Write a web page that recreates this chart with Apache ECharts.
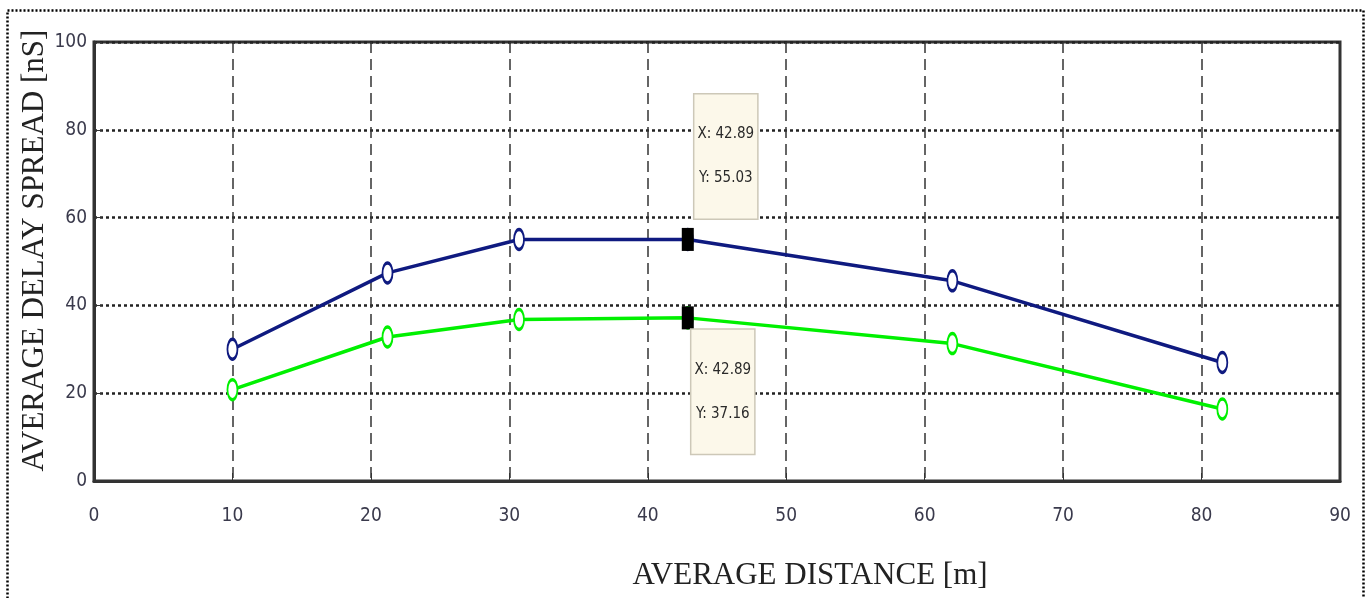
<!DOCTYPE html>
<html>
<head>
<meta charset="utf-8">
<script src="https://cdn.jsdelivr.net/npm/echarts@6/dist/echarts.min.js"></script>
<style>
html,body{margin:0;padding:0;background:#fff;}
#c{width:1370px;height:598px;}
</style>
</head>
<body>
<div id="c"></div>
<script>
// Data
var xValues = [10, 21.2, 30.7, 42.89, 62.0, 81.5];
var blueValues = [30.0, 47.4, 55.0, 55.03, 45.6, 27.0];
var greenValues = [20.8, 32.8, 36.8, 37.16, 31.3, 16.4];
var tipX = 42.89;
var tipBlueY = 55.03;
var tipGreenY = 37.16;
var xTicks = [0, 10, 20, 30, 40, 50, 60, 70, 80, 90];
var yTicks = [0, 20, 40, 60, 80, 100];
var xTitle = 'AVERAGE DISTANCE [m]';
var yTitle = 'AVERAGE DELAY SPREAD [nS]';

var narrow = '"Liberation Sans Narrow", "DejaVu Sans Condensed", "Arial Narrow", sans-serif';
var serif = '"Liberation Serif", "Times New Roman", serif';

function pairs(xs, ys) { return xs.map(function (x, i) { return [x, ys[i]]; }); }

var ellipse = 'path://M5,0 A5,10 0 1,1 5,20 A5,10 0 1,1 5,0 Z';

var chart = echarts.init(document.getElementById('c'), null, {renderer: 'canvas'});
chart.setOption({
  animation: false,
  backgroundColor: '#ffffff',
  grid: {left: 94, right: 30, top: 42, bottom: 117, show: true, borderColor: '#333', borderWidth: 3, backgroundColor: 'transparent'},
  xAxis: {
    type: 'value', min: 0, max: 90, interval: 10,
    name: xTitle, nameLocation: 'middle', nameGap: 79,
    nameTextStyle: {fontFamily: serif, fontSize: 31, color: '#222', padding: [0, 0, 0, 186]},
    axisLine: {show: true, onZero: false, lineStyle: {color: '#333', width: 3}},
    axisTick: {show: true, inside: true, length: 8, lineStyle: {color: '#333', width: 1}},
    axisLabel: {fontFamily: narrow, fontSize: 19, color: '#3a3a4c', margin: 26,
      formatter: function (v) { return xTicks.indexOf(v) >= 0 ? String(v) : ''; }},
    splitLine: {show: true, lineStyle: {color: '#333', width: 1.5, type: [11, 6]}}
  },
  yAxis: {
    type: 'value', min: 0, max: 100, interval: 20,
    name: yTitle, nameLocation: 'middle', nameGap: 44, nameMoveOverlap: false,
    nameTextStyle: {fontFamily: serif, fontSize: 31, color: '#222', padding: [0, 0, 0, 22]},
    axisLine: {show: true, lineStyle: {color: '#333', width: 3}},
    axisTick: {show: true, inside: true, length: 8, lineStyle: {color: '#333', width: 1}},
    axisLabel: {fontFamily: narrow, fontSize: 19, color: '#3a3a4c', margin: 7,
      formatter: function (v) { return yTicks.indexOf(v) >= 0 ? String(v) : ''; }},
    splitLine: {show: true, lineStyle: {color: '#222', width: 2.5, type: [3, 3]}}
  },
  series: [
    {
      type: 'line', data: pairs(xValues, blueValues), z: 3,
      symbol: ellipse, symbolSize: [10, 20], symbolKeepAspect: false,
      lineStyle: {color: '#0f1a80', width: 3.5},
      itemStyle: {color: '#ffffff', borderColor: '#0f1a80', borderWidth: 2.5}
    },
    {
      type: 'line', data: pairs(xValues, greenValues), z: 3,
      symbol: ellipse, symbolSize: [10, 20], symbolKeepAspect: false,
      lineStyle: {color: '#00f000', width: 3.5},
      itemStyle: {color: '#ffffff', borderColor: '#00f000', borderWidth: 2.5}
    },
    {
      type: 'scatter', z: 10,
      symbol: 'rect', symbolSize: [12, 23],
      itemStyle: {color: '#000', opacity: 1},
      data: [
        {value: [tipX, tipBlueY], label: {offset: [38, -83]}},
        {value: [tipX, tipGreenY], label: {offset: [35, 74]}}
      ],
      label: {
        show: true, position: 'inside',
        formatter: function (p) { return 'X: ' + p.value[0].toFixed(2) + '\nY: ' + p.value[1].toFixed(2); },
        fontFamily: narrow, fontSize: 15, lineHeight: 44, color: '#2a2a2a',
        backgroundColor: '#fcf8ea', borderColor: '#cdc8b8', borderWidth: 1.5,
        padding: [18, 3, 18, 3], align: 'center', verticalAlign: 'middle'
      }
    }
  ],
  graphic: [
    {type: 'rect', left: 5, top: 8, shape: {x: 0, y: 0, width: 1356, height: 600}, silent: true,
      style: {fill: 'none', stroke: '#000', lineWidth: 2.5, lineDash: [2, 2]}}
  ]
});
</script>
</body>
</html>
